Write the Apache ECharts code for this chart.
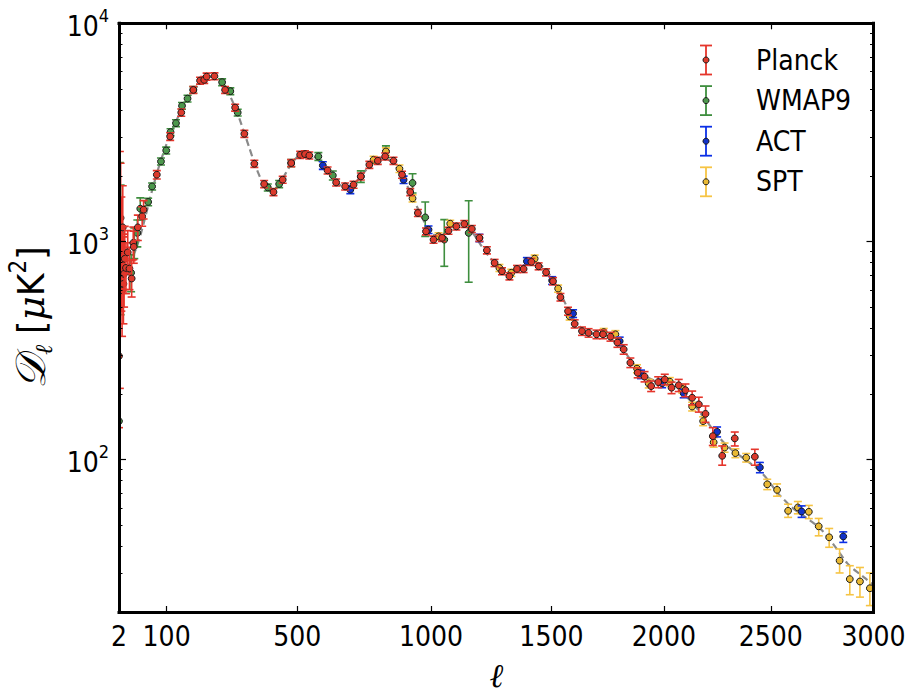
<!DOCTYPE html>
<html>
<head>
<meta charset="utf-8">
<title>CMB temperature power spectrum</title>
<script src="https://cdn.jsdelivr.net/npm/echarts@6/dist/echarts.min.js"></script>
<style>
  html, body { margin: 0; padding: 0; background: #fff; }
  #chart { width: 916px; height: 695px; }
</style>
</head>
<body>
<div id="chart"></div>
<script>
// Multipole axis is drawn on a power-law scale: position ∝ ℓ^0.8
const ELL_POWER = 0.8;
const toAxis = l => Math.pow(l, ELL_POWER);
const fromAxis = t => Math.pow(t, 1 / ELL_POWER);

const ELL_MIN = 2;
const ELL_MAX = 3000;
const D_MIN = 20;
const D_MAX = 10000;

// Tick positions
const xTickLabels = [2, 100, 500, 1000, 1500, 2000, 2500, 3000];
const xTickMarks = [100, 500, 1000, 1500, 2000, 2500];
const yMajorTicks = [100, 1000, 10000];
const yMinorTicks = [20, 30, 40, 50, 60, 70, 80, 90,
                     200, 300, 400, 500, 600, 700, 800, 900,
                     2000, 3000, 4000, 5000, 6000, 7000, 8000, 9000];

const seriesNames = ['Planck', 'WMAP9', 'ACT', 'SPT'];

// Best-fit model spectrum [ℓ, D_ℓ]
const modelEll = [2, 4, 7, 10, 15, 20, 25, 30, 40, 50, 60, 70, 80, 90, 100, 110, 120, 130, 140, 150,
  160, 170, 180, 190, 200, 210, 220, 230, 240, 250, 260, 270, 280, 290, 300, 310, 320, 330, 340, 350,
  360, 370, 380, 390, 400, 410, 420, 430, 440, 450, 460, 470, 480, 490, 500, 510, 520, 530, 540, 550,
  560, 570, 580, 590, 600, 610, 620, 630, 640, 650, 660, 670, 680, 690, 700, 710, 720, 730, 740, 750,
  760, 770, 780, 790, 800, 810, 820, 830, 840, 850, 860, 870, 880, 890, 900, 910, 920, 930, 940, 950,
  960, 970, 980, 990, 1000, 1010, 1020, 1030, 1040, 1050, 1060, 1070, 1080, 1090, 1100, 1110, 1120, 1130,
  1140, 1150, 1160, 1170, 1180, 1190, 1200, 1220, 1240, 1260, 1280, 1300, 1320, 1340, 1360, 1380, 1400,
  1420, 1440, 1460, 1480, 1500, 1520, 1540, 1560, 1580, 1600, 1620, 1640, 1660, 1680, 1700, 1720, 1740,
  1760, 1780, 1800, 1820, 1840, 1860, 1880, 1900, 1920, 1940, 1960, 1980, 2000, 2020, 2040, 2060, 2080,
  2100, 2120, 2140, 2160, 2180, 2200, 2220, 2240, 2260, 2280, 2300, 2330, 2360, 2390, 2420, 2450, 2480,
  2510, 2540, 2570, 2600, 2630, 2660, 2690, 2720, 2750, 2780, 2810, 2840, 2870, 2900, 2930, 2960, 3000];
const modelD = [1000, 840, 760, 750, 770, 810, 860, 920, 1080, 1300, 1570, 1860, 2170, 2480, 2800, 3110, 3420, 3730, 4030, 4320,
  4600, 4860, 5100, 5310, 5490, 5620, 5700, 5700, 5620, 5460, 5230, 4940, 4620, 4280, 3930, 3600, 3260, 2960, 2680, 2430,
  2220, 2040, 1900, 1800, 1730, 1700, 1710, 1760, 1840, 1940, 2050, 2160, 2270, 2360, 2440, 2490, 2520, 2530, 2520, 2490,
  2440, 2380, 2310, 2230, 2150, 2070, 1990, 1920, 1860, 1820, 1790, 1780, 1780, 1790, 1820, 1870, 1930, 2000, 2070, 2140,
  2210, 2270, 2320, 2360, 2390, 2400, 2400, 2380, 2340, 2290, 2220, 2140, 2050, 1960, 1860, 1760, 1660, 1570, 1480, 1400,
  1320, 1250, 1190, 1140, 1100, 1075, 1060, 1060, 1065, 1080, 1100, 1120, 1140, 1160, 1175, 1185, 1190, 1185,
  1170, 1150, 1120, 1090, 1050, 1010, 970, 900, 840, 790, 750, 725, 715, 720, 738, 765, 790,
  800, 792, 770, 730, 685, 630, 575, 520, 470, 435, 410, 393, 383, 378, 376, 373, 367,
  358, 345, 330, 313, 295, 277, 261, 249, 240, 234, 230, 228, 226, 223, 218, 212, 204,
  196, 187, 178, 168, 158, 149, 140, 132, 125, 119, 114, 108, 103, 98, 93.5, 88, 82,
  75, 69, 64.5, 60.5, 57.5, 55, 52.5, 50, 47, 43.5, 40, 36.5, 33.5, 31.5, 30, 28.5, 26.5];

// Band powers: [ℓ, D_ℓ, σ] or [ℓ, D_ℓ, σ-, σ+]  (μK²)
const planck = [
  [2, 298, 158, 1200], [3, 1012, 800, 1570], [4, 1281, 580, 1000], [5, 849, 370, 750],
  [6, 597, 230, 550], [7, 1160, 440, 640], [8, 639, 220, 410], [9, 710, 210, 370],
  [10, 832, 230, 340], [12, 756, 180, 230], [15, 891, 180, 230], [18, 751, 150, 190],
  [22, 676, 120, 140], [25, 984, 160, 180], [26, 944, 150, 170], [34, 1160, 150, 160],
  [43, 1303, 130, 140], [46, 1398, 130, 140],
  [76, 2022, 90], [109, 3027, 120], [138, 3898, 150], [171, 4950, 180], [190, 5462, 200],
  [202, 5502, 200], [209, 5697, 210], [232, 5718, 210], [264, 4950, 180], [295, 4108, 150],
  [324, 3114, 115], [356, 2270, 85], [388, 1833, 68], [419, 1684, 62], [450, 1918, 70],
  [479, 2287, 85], [510, 2496, 92], [527, 2514, 92], [542, 2478, 92], [607, 2116, 78],
  [638, 1864, 69], [671, 1787, 66], [702, 1820, 67], [729, 1986, 73], [761, 2246, 83],
  [793, 2343, 87], [821, 2452, 91], [853, 2343, 87], [886, 2022, 75], [918, 1684, 62],
  [948, 1350, 50], [980, 1112, 41], [1010, 1019, 38], [1044, 1038, 38], [1070, 1120, 41],
  [1102, 1172, 43], [1134, 1202, 44], [1165, 1141, 42], [1196, 1038, 38], [1227, 911, 34],
  [1259, 797, 30], [1290, 730, 27], [1321, 692, 26], [1353, 748, 28], [1381, 748, 28],
  [1414, 806, 30], [1445, 769, 28], [1477, 722, 27], [1507, 657, 25], [1539, 555, 22],
  [1572, 479, 20], [1601, 419, 18], [1633, 388, 17], [1662, 381, 17], [1697, 375, 17],
  [1726, 375, 17], [1759, 366, 17], [1790, 344, 17], [1818, 320, 16], [1848, 278, 14],
  [1881, 250, 13], [1912, 240, 13], [1942, 217, 12], [1974, 226.5, 13], [2004, 233, 13],
  [2035, 213.5, 13], [2068, 219, 14], [2099, 208, 14], [2130, 192, 14], [2161, 179, 14],
  [2192, 162, 14], [2226, 128, 12], [2270, 104, 9.8, 11.4], [2329, 125, 9.6, 8.7],
  [2424, 103, 8.8, 8.4]
];

const wmap9 = [
  [2, 150, 145, 950], [3, 1101, 600, 1200], [4, 911, 450, 900], [21, 718, 130, 150],
  [27, 984, 150, 170], [33, 1094, 150, 160], [39, 1413, 160, 170], [56, 1517, 60],
  [65, 1787, 65], [86, 2326, 85], [99, 2612, 95], [110, 3171, 115], [124, 3486, 125],
  [140, 4183, 150], [155, 4517, 160], [171, 4950, 175], [255, 5370, 190], [280, 4884, 175],
  [303, 3898, 140], [400, 1768, 65], [438, 1833, 68], [479, 2287, 85], [574, 2452, 100],
  [626, 2007, 95], [729, 1986, 120], [824, 2585, 166, 158], [927, 1853, 186, 190],
  [977, 1289, 234, 228], [1053, 1019, 250, 240], [1152, 1094, 444, 443]
];

const act = [
  [590, 2230, 90], [690, 1727, 70], [892, 1918, 75], [990, 1132, 45], [1196, 1038, 40],
  [1395, 811, 32], [1503, 662, 27], [1594, 467, 19], [1800, 349, 15], [1896, 246, 11],
  [1992, 223.5, 10], [2091, 201, 9], [2246, 134, 7], [2448, 92, 5], [2648, 57.8, 3.5],
  [2851, 44.4, 2.7, 2.2]
];

const spt = [
  [777, 2368, 90], [824, 2585, 100], [876, 2154, 85], [927, 1575, 60], [1030, 1055, 40],
  [1077, 1206, 45], [1279, 756, 28], [1329, 718, 27], [1428, 834, 31], [1529, 608, 23],
  [1579, 454, 18], [1729, 384, 15], [1781, 375, 15], [1878, 261, 11], [1931, 223, 10],
  [2027, 227.5, 10], [2084, 211, 9], [2130, 175, 8], [2181, 150, 7], [2230, 120, 6],
  [2281, 113.5, 5.5], [2332, 107, 5], [2383, 102, 4.6], [2483, 77, 4.2], [2530, 72.6, 4.7],
  [2583, 58.2, 3.9, 4.2], [2630, 60.3, 3.9], [2683, 57.6, 4], [2731, 49.4, 4.7, 4.3],
  [2782, 44, 4.4, 4.3], [2833, 34.4, 4.2, 4.5], [2883, 28.3, 4.3, 4.3], [2933, 27.6, 4.2, 4.4],
  [2982, 25.7, 4.3, 4.5]
];

const styles = {
  Planck: { bar: '#e5352b', fill: '#dc3a2c' },
  WMAP9:  { bar: '#3e8e3e', fill: '#4c984c' },
  ACT:    { bar: '#0b2fe6', fill: '#1232c8' },
  SPT:    { bar: '#f6c444', fill: '#e9b934' }
};

const TICK_FONT = '"Liberation Sans Narrow", "DejaVu Sans Condensed", "Liberation Sans", sans-serif';

// [t, D, low, high] rows for the error-bar renderer
function toRows(points) {
  return points.map(p => {
    const lo = p[2];
    const hi = p.length > 3 ? p[3] : p[2];
    return [toAxis(p[0]), p[1], Math.max(p[1] - lo, 1), p[1] + hi];
  });
}

function errorBarRenderer(style) {
  return function (params, api) {
    const c = api.coord([api.value(0), api.value(1)]);
    const lo = api.coord([api.value(0), api.value(2)]);
    const hi = api.coord([api.value(0), api.value(3)]);
    const cap = 4;
    const lw = 1.6;
    return {
      type: 'group',
      children: [
        { type: 'line', shape: { x1: c[0], y1: lo[1], x2: c[0], y2: hi[1] },
          style: { stroke: style.bar, lineWidth: lw } },
        { type: 'line', shape: { x1: c[0] - cap, y1: lo[1], x2: c[0] + cap, y2: lo[1] },
          style: { stroke: style.bar, lineWidth: lw } },
        { type: 'line', shape: { x1: c[0] - cap, y1: hi[1], x2: c[0] + cap, y2: hi[1] },
          style: { stroke: style.bar, lineWidth: lw } },
        { type: 'circle', shape: { cx: c[0], cy: c[1], r: 3.4 },
          style: { fill: style.fill, stroke: '#1a1a1a', lineWidth: 1 } }
      ]
    };
  };
}

function errorSeries(name, points, z) {
  return {
    name: name,
    type: 'custom',
    clip: true,
    z: z,
    xAxisIndex: 0,
    yAxisIndex: 0,
    data: toRows(points),
    encode: { x: 0, y: 1 },
    renderItem: errorBarRenderer(styles[name]),
    silent: true
  };
}

// Legend: error-bar glyph + label for each experiment
function legendGraphics() {
  const els = [];
  const x0 = 706, y0 = 60, step = 40.6;
  seriesNames.forEach((name, i) => {
    const y = y0 + i * step;
    const s = styles[name];
    els.push({ type: 'line', shape: { x1: x0, y1: y - 14.5, x2: x0, y2: y + 14.5 },
      style: { stroke: s.bar, lineWidth: 1.8 } });
    els.push({ type: 'line', shape: { x1: x0 - 6, y1: y - 14.5, x2: x0 + 6, y2: y - 14.5 },
      style: { stroke: s.bar, lineWidth: 1.8 } });
    els.push({ type: 'line', shape: { x1: x0 - 6, y1: y + 14.5, x2: x0 + 6, y2: y + 14.5 },
      style: { stroke: s.bar, lineWidth: 1.8 } });
    els.push({ type: 'circle', shape: { cx: x0, cy: y, r: 3 },
      style: { fill: s.fill, stroke: '#1a1a1a', lineWidth: 1 } });
    els.push({ type: 'text', x: 756, y: y,
      style: { text: name, fontSize: 28, fontFamily: TICK_FONT, fill: '#000', verticalAlign: 'middle', align: 'left' } });
  });
  return els;
}

const axisLineStyle = { color: '#000', width: 3, cap: 'square' };

const logAxisBase = {
  type: 'log', logBase: 10, min: D_MIN, max: D_MAX,
  splitLine: { show: false }, minorTick: { show: false }
};

const option = {
  animation: false,
  backgroundColor: '#fff',
  grid: { left: 119, right: 42.5, top: 23.3, bottom: 83, containLabel: false, outerBoundsMode: 'none' },
  xAxis: [
    {
      type: 'value', position: 'bottom', min: toAxis(ELL_MIN), max: toAxis(ELL_MAX), z: 10,
      axisLine: { show: true, lineStyle: axisLineStyle },
      axisTick: { show: true, inside: true, length: 6, lineStyle: { color: '#000', width: 1.2 },
                  customValues: xTickMarks.map(toAxis) },
      axisLabel: { show: true, customValues: xTickLabels.map(toAxis), margin: 10,
                   formatter: v => String(Math.round(fromAxis(v))),
                   fontSize: 28, fontFamily: TICK_FONT, color: '#000' },
      splitLine: { show: false },
      name: 'ℓ', nameLocation: 'middle', nameGap: 46,
      nameTextStyle: { fontSize: 33, lineHeight: 34, fontFamily: '"DejaVu Serif", serif', fontStyle: 'italic', color: '#000' }
    },
    {
      type: 'value', position: 'top', min: toAxis(ELL_MIN), max: toAxis(ELL_MAX), z: 10,
      axisLine: { show: true, lineStyle: axisLineStyle },
      axisTick: { show: true, inside: true, length: 6, lineStyle: { color: '#000', width: 1.2 },
                  customValues: xTickMarks.map(toAxis) },
      axisLabel: { show: false },
      splitLine: { show: false }
    }
  ],
  yAxis: [
    Object.assign({}, logAxisBase, {
      position: 'left', z: 10,
      axisLine: { show: true, lineStyle: axisLineStyle },
      axisTick: { show: true, inside: true, length: 7, lineStyle: { color: '#000', width: 1.2 },
                  customValues: yMajorTicks },
      axisLabel: {
        show: true, customValues: yMajorTicks, margin: 10,
        formatter: v => '{b|10}{s|' + Math.round(Math.log10(v)) + '}',
        rich: {
          b: { fontSize: 28, fontFamily: TICK_FONT, color: '#000', lineHeight: 34, verticalAlign: 'bottom' },
          s: { fontSize: 18, fontFamily: TICK_FONT, color: '#000', lineHeight: 34, verticalAlign: 'top' }
        }
      },
      name: '{d|𝒟}{l|ℓ}{t| [}{m|μ}{t|K}{p|2}{t|]}',
      nameLocation: 'middle', nameRotate: 90, nameGap: 60,
      nameTextStyle: {
        rich: {
          d: { fontSize: 42, fontFamily: '"DejaVu Serif", serif', fontStyle: 'italic', color: '#000', lineHeight: 50, verticalAlign: 'middle' },
          l: { fontSize: 24, fontFamily: '"DejaVu Serif", serif', fontStyle: 'italic', color: '#000', lineHeight: 50, verticalAlign: 'bottom' },
          t: { fontSize: 38, fontFamily: TICK_FONT, color: '#000', lineHeight: 50, verticalAlign: 'middle' },
          m: { fontSize: 38, fontFamily: '"DejaVu Serif", serif', fontStyle: 'italic', color: '#000', lineHeight: 50, verticalAlign: 'middle' },
          p: { fontSize: 24, fontFamily: TICK_FONT, color: '#000', lineHeight: 50, verticalAlign: 'top' }
        }
      }
    }),
    Object.assign({}, logAxisBase, {
      position: 'left', z: 10,
      axisLine: { show: false },
      axisTick: { show: true, inside: true, length: 3.5, lineStyle: { color: '#000', width: 1 },
                  customValues: yMinorTicks },
      axisLabel: { show: false }
    }),
    Object.assign({}, logAxisBase, {
      position: 'right', z: 10,
      axisLine: { show: true, lineStyle: axisLineStyle },
      axisTick: { show: true, inside: true, length: 7, lineStyle: { color: '#000', width: 1.2 },
                  customValues: yMajorTicks },
      axisLabel: { show: false }
    }),
    Object.assign({}, logAxisBase, {
      position: 'right', z: 10,
      axisLine: { show: false },
      axisTick: { show: true, inside: true, length: 3.5, lineStyle: { color: '#000', width: 1 },
                  customValues: yMinorTicks },
      axisLabel: { show: false }
    })
  ],
  graphic: { elements: legendGraphics() },
  series: [
    {
      name: 'model', type: 'line', z: 1, xAxisIndex: 0, yAxisIndex: 0,
      data: modelEll.map((l, i) => [toAxis(l), modelD[i]]),
      showSymbol: false, smooth: 0.3, clip: true, silent: true,
      lineStyle: { color: '#8a8a8a', width: 2.2, type: [7, 4] }
    },
    errorSeries('WMAP9', wmap9, 2),
    errorSeries('SPT', spt, 3),
    errorSeries('ACT', act, 4),
    errorSeries('Planck', planck, 5)
  ]
};

const chart = echarts.init(document.getElementById('chart'), null, { renderer: 'svg' });
chart.setOption(option);
</script>
</body>
</html>
